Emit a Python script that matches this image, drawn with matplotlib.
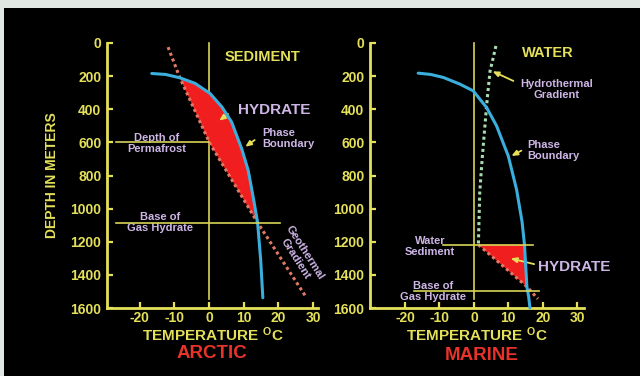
import numpy as np
import matplotlib
matplotlib.use("Agg")
import matplotlib.pyplot as plt
from matplotlib.patches import Rectangle

plt.rcParams['font.family'] = ['Liberation Sans', 'DejaVu Sans']
plt.rcParams['font.weight'] = 'bold'
plt.rcParams['axes.labelweight'] = 'bold'
plt.rcParams['axes.unicode_minus'] = False
plt.rcParams['mathtext.fontset'] = 'custom'
plt.rcParams['mathtext.rm'] = 'Liberation Sans:bold'
plt.rcParams['mathtext.it'] = 'Liberation Sans:bold'
plt.rcParams['mathtext.bf'] = 'Liberation Sans:bold'

# ---------------- data ----------------
temp_ticks = [-20, -10, 0, 10, 20, 30]
depth_ticks = [0, 200, 400, 600, 800, 1000, 1200, 1400, 1600]

# arctic panel
arc_phase_t = [-16.5, -12.5, -8.4, -4.0, 0.3, 3.7, 6.5, 9.4, 11.3, 12.9, 14.0, 14.9, 15.5]
arc_phase_d = [184, 190, 210, 244, 305, 386, 477, 638, 770, 951, 1085, 1315, 1538]
arc_geo_t = [-11.8, -8.4, 0.2, 14.0, 28.0]
arc_geo_d = [25, 210, 605, 1085, 1535]
arc_permafrost = 600
arc_base = 1085

# marine panel
mar_phase_t = [-16.2, -12.5, -8.9, -4.1, -0.2, 3.7, 6.6, 10.0, 12.4, 14.0, 14.7, 15.4, 15.9, 16.3]
mar_phase_d = [182, 190, 208, 248, 289, 390, 501, 683, 885, 1080, 1218, 1471, 1530, 1600]
mar_hydro_t = [6.4, 5.6, 4.7, 3.9, 3.2, 2.4, 1.7, 1.3]
mar_hydro_d = [18, 90, 168, 330, 500, 700, 900, 1218]
mar_geo_t = [1.3, 15.4, 18.6]
mar_geo_d = [1218, 1471, 1545]
mar_seafloor = 1218
mar_base = 1497

# ---------------- style ----------------
yellow = '#e4e05a'
yline = '#d8d456'
lav = '#cdb6e6'
red = '#f01e1e'
blue = '#3aaedc'
salmon = '#e07a64'
green = '#a8dcb0'

fig = plt.figure(figsize=(6.4, 3.76), dpi=100, facecolor='#e1e7e3')
fig.patches.append(Rectangle((4 / 640, 0), 1, (376 - 8) / 376, transform=fig.transFigure,
                             facecolor='black', edgecolor='none', zorder=-10))

W, H = 640, 376
ax1 = fig.add_axes([107 / W, 1 - 308 / H, 211 / W, 265 / H])
ax2 = fig.add_axes([370 / W, 1 - 308 / H, 214 / W, 265 / H])
ax1.set_xlim(-29.4, 31.4)
ax2.set_xlim(-30.2, 32)

for ax in (ax1, ax2):
    ax.set_facecolor('none')
    ax.set_ylim(1600, 0)
    ax.set_xticks(temp_ticks)
    ax.set_yticks(depth_ticks)
    for s in ['top', 'right']:
        ax.spines[s].set_visible(False)
    for s in ['left', 'bottom']:
        ax.spines[s].set_color(yellow)
        ax.spines[s].set_linewidth(2)
    ax.tick_params(direction='in', length=4, width=1.6, colors=yellow, labelsize=10)
    ax.tick_params(axis='y', pad=4)
    ax.tick_params(axis='x', pad=2.5)
    ax.set_xlabel('TEMPERATURE $^{\\rm O}$C', color=yellow, fontsize=11, labelpad=0,
                  fontweight='bold')
    ax.plot([0, 0], [0, 1545], color=yline, lw=1.2, clip_on=False)

arrow = dict(arrowstyle='-|>,head_length=0.35,head_width=0.15', color=yellow, lw=1.3)

# ---------------- arctic ----------------
pt = np.array(arc_phase_t); pd_ = np.array(arc_phase_d)
gt = np.array(arc_geo_t); gd = np.array(arc_geo_d)
m1 = (pd_ >= 210) & (pd_ <= arc_base)
m2 = (gd >= 210) & (gd <= arc_base)
ax1.fill(np.r_[pt[m1], gt[m2][::-1]], np.r_[pd_[m1], gd[m2][::-1]], color=red, lw=0, zorder=2)
ax1.plot(arc_geo_t, arc_geo_d, color=salmon, lw=2.2, ls=(0, (1, 1)), zorder=3)
ax1.plot(arc_phase_t, arc_phase_d, color=blue, lw=2.2, zorder=4, solid_capstyle='round',
         solid_joinstyle='round')
ax1.plot([-26.8, 0], [arc_permafrost] * 2, color=yline, lw=1.2, zorder=5)
ax1.plot([-26.8, 20.5], [arc_base] * 2, color=yline, lw=1.2, zorder=5)

ax1.text(15.3, 85, 'SEDIMENT', color=yellow, fontsize=10.5, ha='center', va='center')
ax1.text(18.7, 406, 'HYDRATE', color=lav, fontsize=11, ha='center', va='center')
ax1.annotate('', xy=(2.3, 479), xytext=(6.1, 418), arrowprops=arrow)
ax1.text(15.3, 579, 'Phase\nBoundary', color=lav, fontsize=8, ha='left', va='center',
         linespacing=1.1)
ax1.annotate('', xy=(9.8, 636), xytext=(13.8, 576), arrowprops=arrow)
ax1.text(-15, 606, 'Depth of\nPermafrost', color=lav, fontsize=8, ha='center', va='center',
         linespacing=1.15)
ax1.text(-14.1, 1085, 'Base of\nGas Hydrate', color=lav, fontsize=8, ha='center', va='center',
         linespacing=1.15)
ax1.text(26.2, 1285, 'Geothermal\nGradient', color=lav, fontsize=8, ha='center', va='center',
         rotation=-57.5, rotation_mode='anchor', linespacing=1.1, clip_on=False)

# ---------------- marine ----------------
pt = np.array(mar_phase_t); pd_ = np.array(mar_phase_d)
gt = np.array(mar_geo_t); gd = np.array(mar_geo_d)
m1 = (pd_ >= mar_seafloor) & (pd_ <= 1471)
m2 = (gd >= mar_seafloor) & (gd <= 1471)
ax2.fill(np.r_[pt[m1], gt[m2][::-1]], np.r_[pd_[m1], gd[m2][::-1]], color=red, lw=0, zorder=2)
ax2.plot(mar_geo_t, mar_geo_d, color=salmon, lw=2.2, ls=(0, (1, 1)), zorder=3)
ax2.plot(mar_hydro_t, mar_hydro_d, color=green, lw=2.2, ls=(0, (1, 1)), zorder=3)
ax2.plot(mar_phase_t, mar_phase_d, color=blue, lw=2.2, zorder=4, solid_capstyle='round',
         solid_joinstyle='round', clip_on=False)
ax2.plot([-9, 17.2], [mar_seafloor] * 2, color=yline, lw=1.2, zorder=5)
ax2.plot([-17.4, 18.9], [mar_base] * 2, color=yline, lw=1.2, zorder=5)

ax2.text(21.5, 61, 'WATER', color=yellow, fontsize=10.5, ha='center', va='center')
ax2.text(24.1, 279, 'Hydrothermal\nGradient', color=lav, fontsize=8, ha='center', va='center',
         linespacing=1.1)
ax2.annotate('', xy=(4.7, 164), xytext=(12.2, 236), arrowprops=arrow)
ax2.text(15.4, 651, 'Phase\nBoundary', color=lav, fontsize=8, ha='left', va='center',
         linespacing=1.1)
ax2.annotate('', xy=(10.2, 690), xytext=(14.5, 642), arrowprops=arrow)
ax2.text(29.1, 1351, 'HYDRATE', color=lav, fontsize=11, ha='center', va='center', clip_on=False)
ax2.annotate('', xy=(9.9, 1297), xytext=(18.3, 1339), arrowprops=arrow)
ax2.text(-12.8, 1230, 'Water\nSediment', color=lav, fontsize=8, ha='center', va='center',
         linespacing=1.15)
ax2.text(-11.9, 1500, 'Base of\nGas Hydrate', color=lav, fontsize=8, ha='center', va='center',
         linespacing=1.15)

# ---------------- figure texts ----------------
fig.text(51.5 / W, 1 - 175 / H, 'DEPTH IN METERS', color=yellow, fontsize=10,
         rotation=90, ha='center', va='center')
fig.text(212 / W, 1 - 353 / H, 'ARCTIC', color='#e8332a', fontsize=13.5, ha='center', va='center')
fig.text(482 / W, 1 - 355 / H, 'MARINE', color='#e8332a', fontsize=13.5, ha='center', va='center')

fig.savefig('out.png', dpi=100, facecolor=fig.get_facecolor())
